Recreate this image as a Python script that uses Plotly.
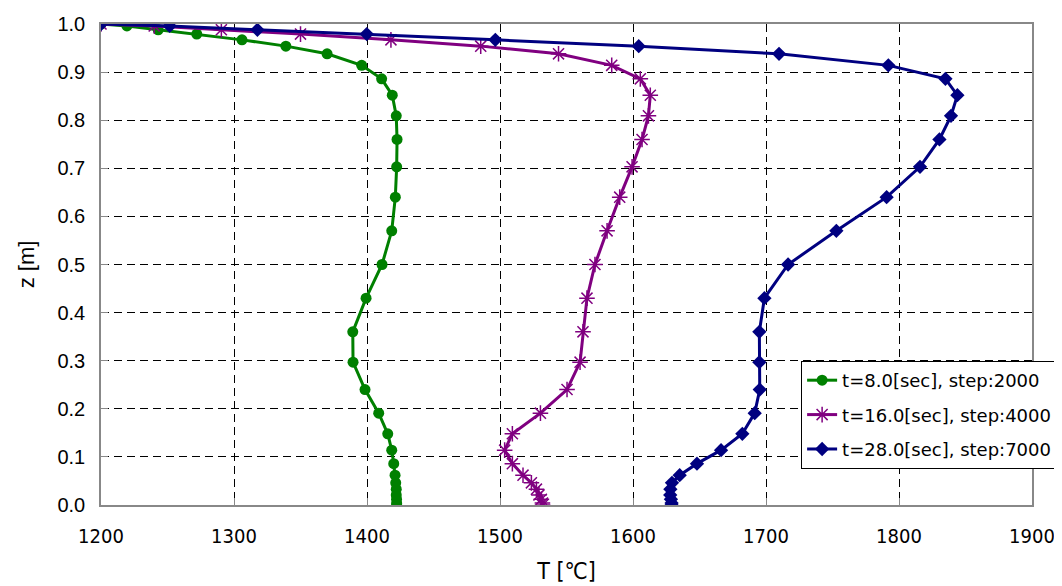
import plotly.graph_objects as go

z = [1.0, 0.996, 0.988, 0.979, 0.967, 0.954, 0.938, 0.914, 0.886, 0.852, 0.809,
     0.760, 0.703, 0.640, 0.570, 0.500, 0.430, 0.360, 0.297, 0.240, 0.191, 0.148,
     0.114, 0.086, 0.062, 0.046, 0.033, 0.021, 0.012, 0.004, 0.0]

T_8 = [1200, 1219.5, 1243, 1272, 1306, 1339, 1370, 1396, 1411, 1419, 1422,
       1422.6, 1422.3, 1421.3, 1418.6, 1411.3, 1399.3, 1389.3, 1389.5, 1398.5, 1408.8, 1415.6,
       1418.6, 1420.1, 1421.1, 1421.6, 1422, 1422, 1422.2, 1422.3, 1422.3]

T_16 = [1200, 1240, 1290.5, 1350, 1418, 1485.5, 1544, 1584, 1605.5, 1613, 1611.6,
        1606.8, 1599.3, 1590, 1580.5, 1571.4, 1565.4, 1562.4, 1560.2, 1550.4, 1530.4, 1509.3,
        1503.5, 1509.3, 1517.3, 1523.6, 1527.4, 1529.3, 1531.1, 1531.9, 1532]

T_28 = [1200, 1251.6, 1317.6, 1399.8, 1496.5, 1604.3, 1709.8, 1792, 1834.9, 1843.9, 1839.1,
        1830.4, 1815.8, 1790.7, 1752.9, 1716.6, 1698.8, 1695, 1695, 1695.3, 1691.5, 1682.2,
        1666.2, 1648.1, 1635.1, 1629.3, 1628.1, 1628, 1628.5, 1629, 1629]

names = ["t=8.0[sec], step:2000", "t=16.0[sec], step:4000", "t=28.0[sec], step:7000"]
colors = ["#008000", "#800080", "#000080"]

fig = go.Figure()
fig.add_trace(go.Scatter(
    x=T_8, y=z, mode="lines+markers", name=names[0], legendgroup="a",
    line=dict(color=colors[0], width=3),
    marker=dict(symbol="circle", size=11, color=colors[0])))
fig.add_trace(go.Scatter(
    x=T_16, y=z, mode="lines+markers", name=names[1], legendgroup="b",
    line=dict(color=colors[1], width=3),
    marker=dict(symbol="asterisk-open", size=13, color=colors[1],
                line=dict(color=colors[1], width=1.5))))
fig.add_trace(go.Scatter(
    x=T_28, y=z, mode="lines+markers", name=names[2], legendgroup="c",
    line=dict(color=colors[2], width=3),
    marker=dict(symbol="diamond", size=11, color=colors[2])))

fig.update_layout(
    width=1062, height=586,
    margin=dict(l=93, r=38, t=16, b=89),
    paper_bgcolor="white", plot_bgcolor="white",
    font=dict(family="Liberation Sans, Arial, sans-serif", color="black"),
    showlegend=True,
    legend=dict(
        x=0.752, y=0.2994, xanchor="left", yanchor="top",
        bordercolor="black", borderwidth=1, bgcolor="white",
        font=dict(size=18, family="DejaVu Sans, sans-serif"),
        tracegroupgap=8, traceorder="grouped",
    ),
)

narrow = "Liberation Sans Narrow, DejaVu Sans Condensed, sans-serif"
fig.update_xaxes(
    range=[1200, 1900], dtick=100, tick0=1200, automargin=False,
    showline=True, linecolor="#888888", linewidth=1.5, mirror=True,
    ticks="inside", ticklen=7, tickcolor="#888888",
    showgrid=True, gridcolor="black", gridwidth=1, griddash="8px,5px",
    zeroline=False,
    tickfont=dict(size=20, family=narrow),
    ticklabelstandoff=12,
    title=dict(text="T [℃]", font=dict(size=23, family=narrow), standoff=16),
)
fig.update_yaxes(
    range=[0, 1.0], dtick=0.1, tick0=0, tickformat=".1f", automargin=False,
    showline=True, linecolor="#888888", linewidth=1.5, mirror=True,
    ticks="inside", ticklen=7, tickcolor="#888888",
    showgrid=True, gridcolor="black", gridwidth=1, griddash="8px,5px",
    zeroline=False,
    tickfont=dict(size=20),
    ticklabelstandoff=10,
    title=dict(text="z [m]", font=dict(size=22), standoff=17),
)

fig.write_html("out.html")
